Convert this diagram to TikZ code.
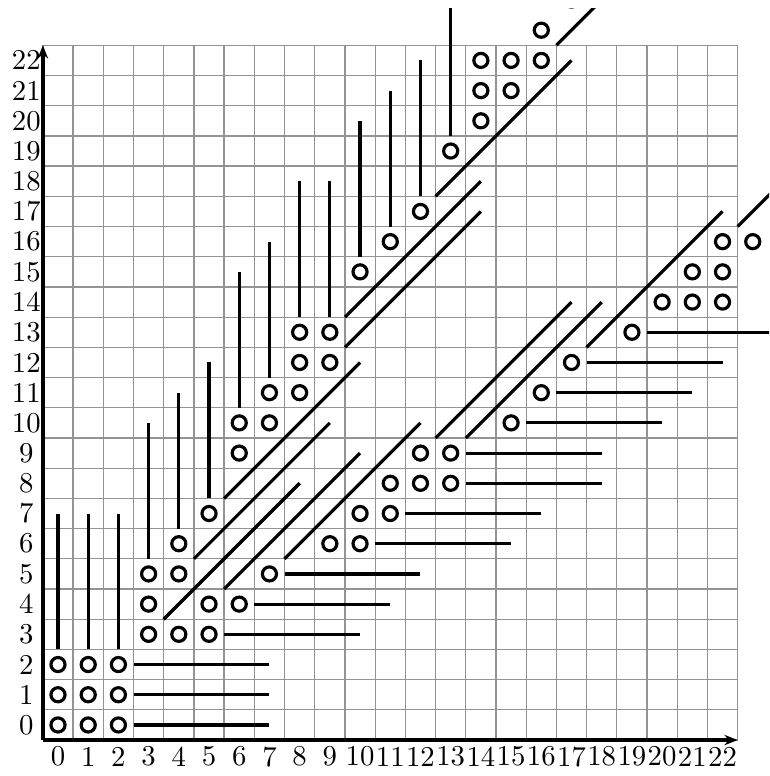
\documentclass[tikz,border=0pt]{standalone}
\usetikzlibrary{arrows.meta}
\begin{document}
\begin{tikzpicture}[x=10.5pt,y=10.5pt,
  gridline/.style={gray!85, line width=0.45pt},
  thickline/.style={line width=1.1pt},
  axisline/.style={line width=1.15pt, -{Stealth[length=4.6pt,width=3.6pt]}},
  dot/.style={circle, draw, line width=1.1pt, minimum size=4.9pt, inner sep=0pt},
  lab/.style={inner sep=0pt}]
\useasboundingbox (-1.92,-1.69) rectangle (23.54,24.0);
\clip (-1.92,-1.69) rectangle (23.54,23.73);
% grid
\foreach \i in {0,...,23} {
  \draw[gridline] (\i-0.5,-0.5) -- (\i-0.5,22.5);
  \draw[gridline] (-0.5,\i-0.5) -- (22.5,\i-0.5);
}
% axes
\coordinate (O) at (-0.5,-0.5);
\coordinate (XE) at (22.5,-0.5);
\coordinate (YE) at (-0.5,22.5);
\draw[axisline] (O) -- (XE);
\draw[axisline] (O) -- (YE);
% labels
\foreach \i in {0,...,22} {
  \node[lab] (xl\i) at (\i,-1.05) {\i};
  \node[lab] (yl\i) at (-1.05,\i) {\i};
}
% circles
\foreach \a/\b in {0/0,1/0,2/0,0/1,1/1,2/1,0/2,1/2,2/2,
  3/3,4/3,5/3,3/4,5/4,6/4,3/5,4/5,7/5,4/6,9/6,10/6,5/7,10/7,11/7,
  11/8,12/8,13/8,6/9,12/9,13/9,6/10,7/10,15/10,7/11,8/11,16/11,
  8/12,9/12,17/12,8/13,9/13,19/13,20/14,21/14,22/14,10/15,21/15,22/15,
  11/16,22/16,23/16,12/17,13/19,14/20,14/21,15/21,14/22,15/22,16/22,
  16/23,17/24,24/17} {
  \node[dot] (c\a-\b) at (\a,\b) {};
}
% vertical and horizontal lines
\foreach \k/\s in {0/2.5,1/2.5,2/2.5,3/5.5,4/6.5,5/7.5,6/10.5,7/11.5,
  8/13.5,9/13.5,10/15.5,11/16.5,12/17.5,13/19.5} {
  \draw[thickline] (\k,\s) -- (\k,\s+4.5);
  \draw[thickline] (\s,\k) -- (\s+4.5,\k);
}
% diagonal lines
\foreach \p/\q in {3.5/3.5,4.5/5.5,5.5/7.5,9.5/12.5,9.5/13.5,12.5/17.5,16.5/22.5} {
  \draw[thickline] (\p,\q) -- (\p+4.5,\q+4.5);
  \draw[thickline] (\q,\p) -- (\q+4.5,\p+4.5);
}
\end{tikzpicture}
\end{document}
